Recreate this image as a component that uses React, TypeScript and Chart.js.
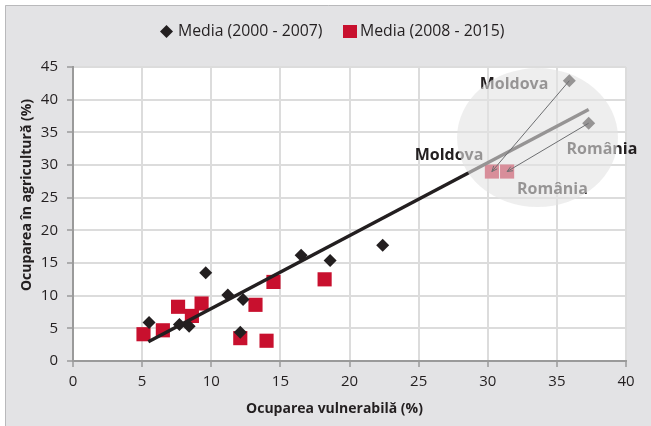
import React, { useEffect, useRef } from "react";
import { Chart, registerables } from "chart.js";

Chart.register(...registerables);

// ---- data ----
const SERIES_A_LABEL = "Media (2000 - 2007)";
const SERIES_B_LABEL = "Media (2008 - 2015)";
const A_X = [5.5, 7.7, 8.4, 9.6, 11.2, 12.3, 12.1, 16.5, 18.6, 22.4, 35.9, 37.3];
const A_Y = [5.9, 5.6, 5.3, 13.5, 10.1, 9.4, 4.4, 16.2, 15.4, 17.7, 42.9, 36.4];
const B_X = [5.1, 6.5, 7.6, 8.6, 9.3, 12.1, 13.2, 14.0, 14.5, 18.2, 30.3, 31.4];
const B_Y = [4.1, 4.7, 8.3, 6.9, 8.8, 3.5, 8.6, 3.1, 12.1, 12.5, 29.0, 29.0];
const TREND_X = [5.45, 37.3];
const TREND_Y = [2.95, 38.5];
const X_TITLE = "Ocuparea vulnerabilă (%)";
const Y_TITLE = "Ocuparea în agricultură (%)";

// annotation labels (data coords, centered)
const LABEL_TEXT = ["Moldova", "Moldova", "România", "România"];
const LABEL_X = [31.9, 27.2, 38.26, 34.68];
const LABEL_Y = [42.4, 31.5, 32.45, 26.2];
// arrows: from point index in A to point index in B
const ARROW_FROM = [10, 11];
const ARROW_TO = [10, 11];

const INK = "#231f20";
const RED = "#c8102e";
const FONT = "'Open Sans', 'Noto Sans', sans-serif";

export default function App() {
  const ref = useRef<HTMLCanvasElement>(null);
  useEffect(() => {
    document.body.style.margin = "0";
    const canvas = ref.current!;
    const toPts = (xs: number[], ys: number[]) => xs.map((x, i) => ({ x, y: ys[i] }));

    const deco = {
      id: "deco",
      beforeDraw(chart: any) {
        const { ctx, chartArea: a, width, height } = chart;
        ctx.save();
        ctx.fillStyle = "#ffffff";
        ctx.fillRect(0, 0, width, height);
        ctx.fillStyle = "#e3e3e5";
        ctx.fillRect(5, 5, width - 5, height - 5);
        ctx.strokeStyle = "#b9b9bb";
        ctx.lineWidth = 1;
        ctx.beginPath();
        ctx.moveTo(5.5, height);
        ctx.lineTo(5.5, 5.5);
        ctx.lineTo(width, 5.5);
        ctx.stroke();
        ctx.fillStyle = "#ffffff";
        ctx.fillRect(a.left, a.top, a.right - a.left, a.bottom - a.top);
        ctx.restore();
      },
      afterDatasetsDraw(chart: any) {
        const { ctx } = chart;
        const xs = chart.scales.x;
        const ys = chart.scales.y;
        ctx.save();
        // labels
        ctx.fillStyle = INK;
        ctx.font = `bold 16px ${FONT}`;
        ctx.textAlign = "center";
        ctx.textBaseline = "middle";
        LABEL_TEXT.forEach((t, i) => {
          ctx.fillText(t, xs.getPixelForValue(LABEL_X[i]), ys.getPixelForValue(LABEL_Y[i]));
        });
        // overlay ellipse
        const cx = xs.getPixelForValue(33.6);
        const cy = ys.getPixelForValue(34.2);
        const rx = xs.getPixelForValue(33.6 + 5.82) - cx;
        const ry = cy - ys.getPixelForValue(34.2 + 10.64);
        ctx.fillStyle = "rgba(226,226,226,0.6)";
        ctx.beginPath();
        ctx.ellipse(cx, cy, rx, ry, 0, 0, Math.PI * 2);
        ctx.fill();
        // arrows
        ctx.strokeStyle = "#6d6e71";
        ctx.lineWidth = 1;
        ARROW_FROM.forEach((fi, k) => {
          const x1 = xs.getPixelForValue(A_X[fi]);
          const y1 = ys.getPixelForValue(A_Y[fi]);
          const x2 = xs.getPixelForValue(B_X[ARROW_TO[k]]);
          const y2 = ys.getPixelForValue(B_Y[ARROW_TO[k]]);
          const ang = Math.atan2(y2 - y1, x2 - x1);
          ctx.beginPath();
          ctx.moveTo(x1, y1);
          ctx.lineTo(x2, y2);
          ctx.stroke();
          const h = 6;
          ctx.beginPath();
          ctx.moveTo(x2 - h * Math.cos(ang - 0.4), y2 - h * Math.sin(ang - 0.4));
          ctx.lineTo(x2, y2);
          ctx.lineTo(x2 - h * Math.cos(ang + 0.4), y2 - h * Math.sin(ang + 0.4));
          ctx.stroke();
        });
        ctx.restore();
      },
      afterDraw(chart: any) {
        const { ctx } = chart;
        ctx.save();
        ctx.fillStyle = INK;
        ctx.textBaseline = "middle";
        // axis titles
        ctx.font = `bold 14px ${FONT}`;
        ctx.textAlign = "center";
        ctx.fillText(X_TITLE, 334.5, 409);
        ctx.translate(27.5, 195);
        ctx.rotate(-Math.PI / 2);
        ctx.fillText(Y_TITLE, 0, 0);
        ctx.setTransform(1, 0, 0, 1, 0, 0);
        // legend
        ctx.font = `15.8px ${FONT}`;
        ctx.textAlign = "left";
        const ly = 31.5;
        ctx.fillStyle = INK;
        ctx.beginPath();
        ctx.moveTo(160, ly);
        ctx.lineTo(166.5, ly - 6.5);
        ctx.lineTo(173, ly);
        ctx.lineTo(166.5, ly + 6.5);
        ctx.closePath();
        ctx.fill();
        ctx.fillText(chart.data.datasets[0].label, 178, ly);
        ctx.fillStyle = RED;
        ctx.fillRect(343, 25, 14, 13);
        ctx.fillStyle = INK;
        ctx.fillText(chart.data.datasets[1].label, 360, ly);
        ctx.restore();
      },
    };

    const chart = new Chart(canvas, {
      type: "scatter",
      data: {
        datasets: [
          {
            label: SERIES_A_LABEL,
            data: toPts(A_X, A_Y),
            pointStyle: "rectRot",
            pointRadius: 6.5,
            backgroundColor: INK,
            borderColor: INK,
            borderWidth: 0,
            order: 2,
          },
          {
            label: SERIES_B_LABEL,
            data: toPts(B_X, B_Y),
            pointStyle: "rect",
            pointRadius: 10,
            backgroundColor: RED,
            borderColor: RED,
            borderWidth: 0,
            order: 3,
          },
          {
            type: "line",
            label: "trend",
            data: toPts(TREND_X, TREND_Y),
            borderColor: INK,
            borderWidth: 3.5,
            pointRadius: 0,
            showLine: true,
            fill: false,
            order: 1,
          } as any,
        ],
      },
      options: {
        animation: false,
        responsive: false,
        layout: { padding: { left: 0, right: 25, top: 67, bottom: 0 } },
        plugins: { legend: { display: false }, tooltip: { enabled: false } },
        scales: {
          x: {
            type: "linear",
            min: 0,
            max: 40,
            ticks: { stepSize: 5, color: INK, font: { family: FONT, size: 15 }, padding: 6 },
            grid: { color: "#dcdcdc", lineWidth: 2, tickColor: "#9a9a9a", tickLength: 6, tickWidth: 1.5 },
            border: { color: "#9a9a9a", width: 2 },
            afterFit: (s: any) => { s.height = 65; },
          },
          y: {
            type: "linear",
            min: 0,
            max: 45,
            ticks: { stepSize: 5, color: INK, font: { family: FONT, size: 15 }, padding: 9 },
            grid: { color: "#dcdcdc", lineWidth: 2, tickColor: "#9a9a9a", tickLength: 6, tickWidth: 1.5 },
            border: { color: "#9a9a9a", width: 2 },
            afterFit: (s: any) => { s.width = 73; },
          },
        },
      },
      plugins: [deco],
    } as any);
    return () => chart.destroy();
  }, []);
  return <canvas ref={ref} width={651} height={426} style={{ display: "block" }} />;
}
